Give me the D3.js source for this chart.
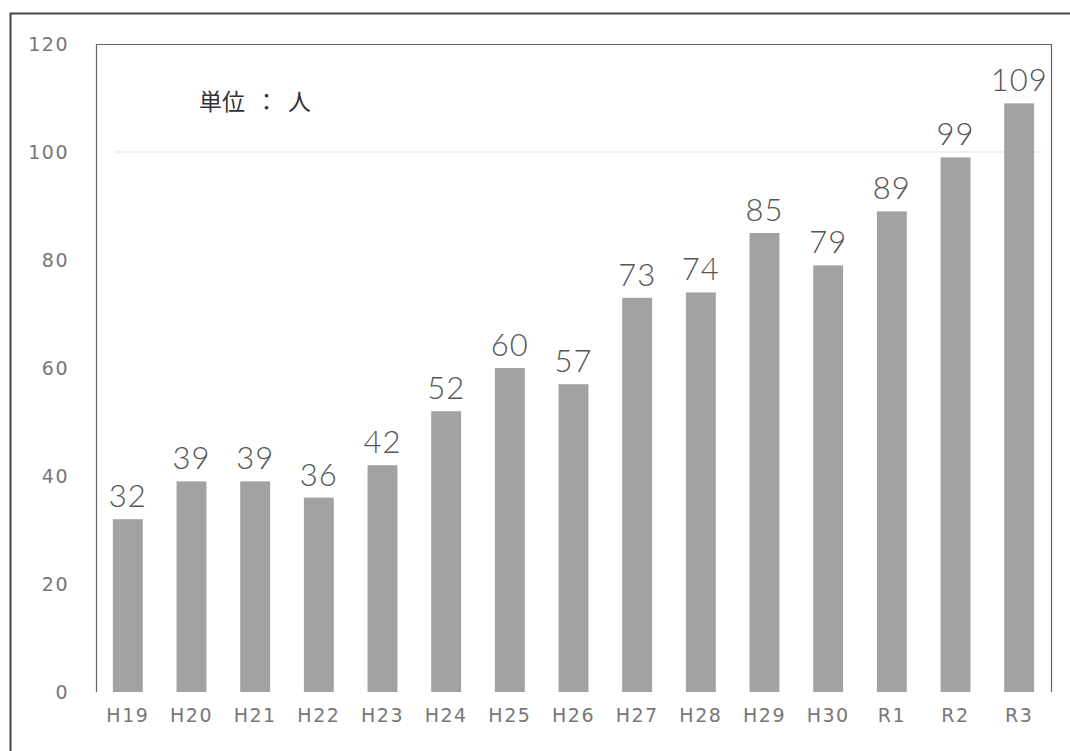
<!DOCTYPE html>
<html lang="ja">
<head>
  <meta charset="utf-8">
  <title>単位：人</title>
  <script src="https://cdnjs.cloudflare.com/ajax/libs/d3/7.8.5/d3.min.js"></script>
  <style>
    body { margin: 0; background: #fff; }
    .tick text { fill: #777; }
  </style>
</head>
<body>
<svg id="chart" width="1070" height="751"></svg>
<script>
  // data
  var years = ["H19", "H20", "H21", "H22", "H23", "H24", "H25", "H26", "H27", "H28", "H29", "H30", "R1", "R2", "R3"];
  var counts = [32, 39, 39, 36, 42, 52, 60, 57, 73, 74, 85, 79, 89, 99, 109];
  var yTicks = [0, 20, 40, 60, 80, 100, 120];
  var unitParts = ["単位", "：", "人"];

  var svg = d3.select("#chart");
  var plotL = 96, plotR = 1051, plotT = 44, plotB = 692;

  // outer frame (left + top edges)
  svg.append("path")
    .attr("d", "M10.5,751 L10.5,13.5 L1070,13.5")
    .attr("fill", "none")
    .attr("stroke", "#444")
    .attr("stroke-width", 2);

  var x = d3.scaleBand()
    .domain(years)
    .range([plotL, plotR])
    .paddingInner(0.53)
    .paddingOuter(0.265);

  var y = d3.scaleLinear()
    .domain([0, 120])
    .range([plotB, plotT]);

  // faint gridline
  svg.append("line")
    .attr("x1", plotL + 20).attr("x2", plotR - 10)
    .attr("y1", y(100)).attr("y2", y(100))
    .attr("stroke", "#ececec")
    .attr("stroke-width", 1.5);

  // inner plot frame (no bottom edge)
  svg.append("path")
    .attr("d", "M" + (plotL + 0.5) + "," + plotB + " L" + (plotL + 0.5) + "," + (plotT + 0.5) +
      " L" + (plotR + 0.5) + "," + (plotT + 0.5) + " L" + (plotR + 0.5) + "," + plotB)
    .attr("fill", "none")
    .attr("stroke", "#666")
    .attr("stroke-width", 1.2);

  // y axis labels
  var yAxis = svg.append("g")
    .attr("transform", "translate(69,0)")
    .call(d3.axisLeft(y).tickValues(yTicks).tickSize(0).tickPadding(0));
  yAxis.select(".domain").remove();
  yAxis.selectAll("text")
    .attr("font-family", "'DejaVu Sans', sans-serif")
    .attr("font-size", 19)
    .attr("letter-spacing", 1.5);

  // x axis labels
  var xAxis = svg.append("g")
    .attr("transform", "translate(0," + plotB + ")")
    .call(d3.axisBottom(x).tickSize(0).tickPadding(17));
  xAxis.select(".domain").remove();
  xAxis.selectAll("text")
    .attr("font-family", "'DejaVu Sans', sans-serif")
    .attr("font-size", 19)
    .attr("letter-spacing", 1.5);

  // bars
  svg.selectAll(".bar")
    .data(years)
    .join("rect")
    .attr("class", "bar")
    .attr("x", function (d) { return x(d); })
    .attr("width", x.bandwidth())
    .attr("y", function (d, i) { return y(counts[i]); })
    .attr("height", function (d, i) { return plotB - y(counts[i]); })
    .attr("fill", "#a2a2a2");

  // value labels
  svg.selectAll(".val")
    .data(years)
    .join("text")
    .attr("class", "val")
    .attr("x", function (d) { return x(d) + x.bandwidth() / 2; })
    .attr("y", function (d, i) { return y(counts[i]) - 12; })
    .attr("text-anchor", "middle")
    .attr("font-family", "Lato, sans-serif")
    .attr("font-weight", 300)
    .attr("font-size", 31)
    .attr("letter-spacing", 1)
    .attr("fill", "#555")
    .text(function (d, i) { return counts[i]; });

  // unit label
  var unit = svg.append("text")
    .attr("x", 199)
    .attr("y", 110)
    .attr("font-family", "'Noto Sans CJK JP', sans-serif")
    .attr("font-size", 23)
    .attr("fill", "#333");
  unit.selectAll("tspan")
    .data(unitParts)
    .join("tspan")
    .attr("dx", function (d, i) { return i === 0 ? 0 : i === 1 ? 10 : 10; })
    .text(function (d) { return d; });
</script>
</body>
</html>
